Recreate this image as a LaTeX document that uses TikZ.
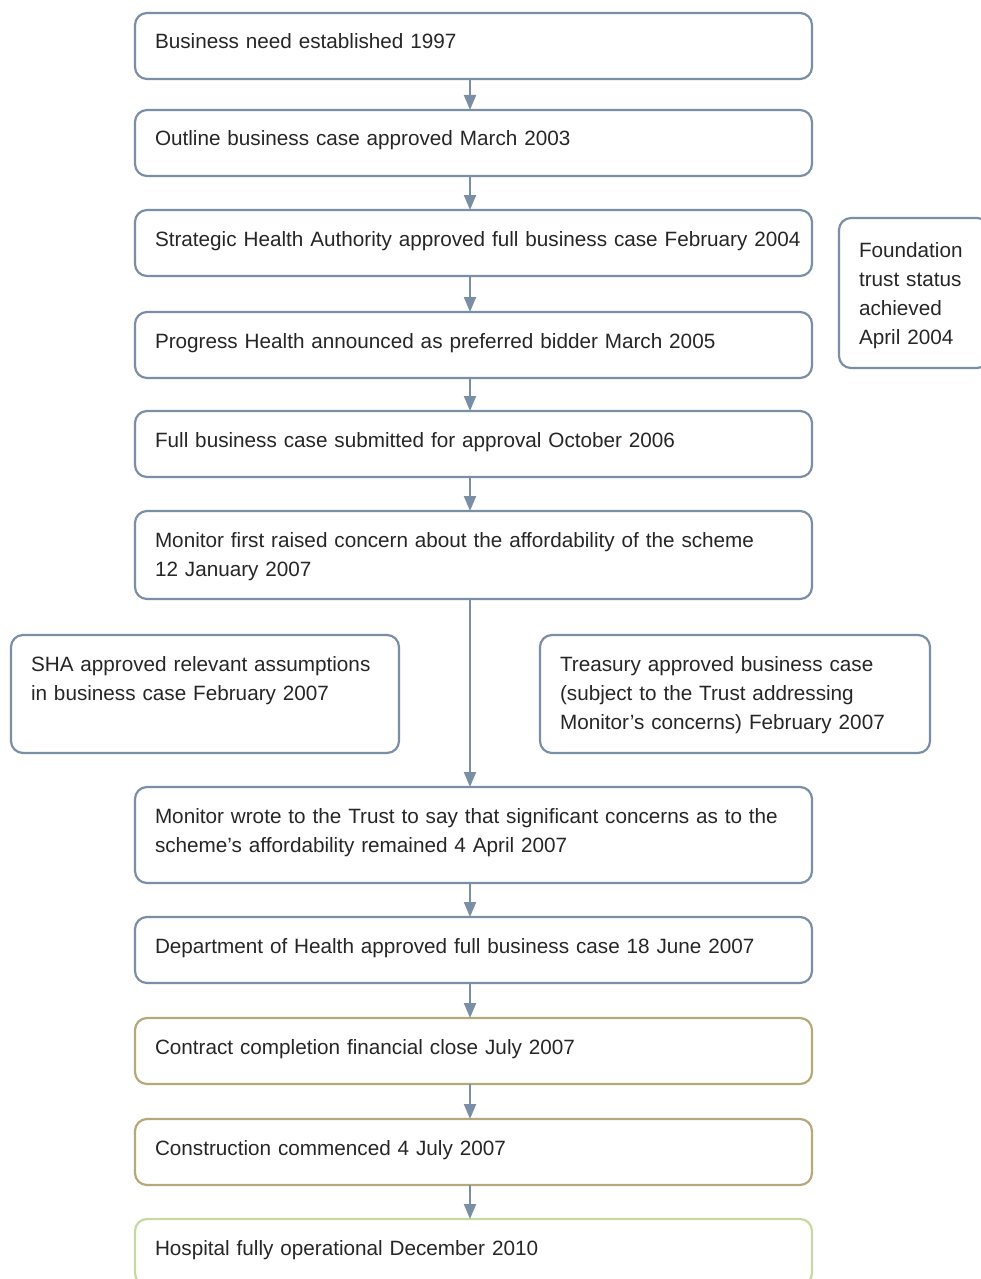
\documentclass[tikz,border=0pt]{standalone}
\usepackage{fontspec}
\setmainfont{Liberation Sans}
\usetikzlibrary{arrows.meta}
\definecolor{slate}{RGB}{122,143,166}
\definecolor{sand}{RGB}{181,168,122}
\definecolor{sage}{RGB}{196,218,162}
\tikzset{
    stage_box/.style={
        draw=slate,
        line width=2.2pt,
        rounded corners=12pt,
        anchor=north west,
        align=left,
        text width=637pt,
        inner xsep=20pt,
        inner ysep=0pt,
        outer sep=0pt,
        text height=36pt,
        text depth=#1,
        font=\fontsize{20.7}{29}\selectfont,
        text=black!85
    },
    stage_box/.default=30pt,
    flow/.style={draw=slate, line width=2pt, -{Triangle[width=12pt,length=15pt]}}
}

\begin{document}
\begin{tikzpicture}[x=1pt, y=-1pt]
    \useasboundingbox (0,0) rectangle (980,1279);
    \coordinate (spine) at (470,0);

    % Stage 1 : Need
    \node[stage_box] (need) at (135,13) {Business need established 1997};
    % Stage 2 : Outline case
    \node[stage_box] (outline) at (135,110) {Outline business case approved March 2003};
    % Stage 3 : SHA approval
    \node[stage_box] (sha) at (135,210) {\mbox{Strategic Health Authority approved full business case February 2004}};
    % Stage 4 : Bidder
    \node[stage_box] (bidder) at (135,312) {Progress Health announced as preferred bidder March 2005};
    % Stage 5 : Full case
    \node[stage_box] (full) at (135,411) {Full business case submitted for approval October 2006};
    % Stage 6 : First concern
    \node[stage_box=52pt] (concern) at (135,511) {Monitor first raised concern about the affordability of the scheme\\12 January 2007};
    % Stage 7 : Letter
    \node[stage_box=60pt] (letter) at (135,787) {Monitor wrote to the Trust to say that significant concerns as to the\\scheme's affordability remained 4 April 2007};
    % Stage 8 : DH approval
    \node[stage_box] (dh) at (135,917) {Department of Health approved full business case 18 June 2007};
    % Stage 9 : Close
    \node[stage_box, draw=sand] (close) at (135,1018) {Contract completion financial close July 2007};
    % Stage 10 : Construction
    \node[stage_box, draw=sand] (build) at (135,1119) {Construction commenced 4 July 2007};
    % Stage 11 : Operational
    \node[stage_box, draw=sage] (open) at (135,1219) {Hospital fully operational December 2010};

    % Side notes
    \node[stage_box=82pt, text width=348pt] (assume) at (11,635) {SHA approved relevant assumptions\\in business case February 2007};
    \node[stage_box=82pt, text width=350pt] (treasury) at (540,635) {Treasury approved business case\\(subject to the Trust addressing\\Monitor's concerns) February 2007};
    \node[stage_box=111pt, text height=39pt, text width=110pt] (foundation) at (839,218) {Foundation\\trust status\\achieved\\April 2004};

    % Connectors
    \draw[flow] (need.south -| spine) -- (outline.north -| spine);
    \draw[flow] (outline.south -| spine) -- (sha.north -| spine);
    \draw[flow] (sha.south -| spine) -- (bidder.north -| spine);
    \draw[flow] (bidder.south -| spine) -- (full.north -| spine);
    \draw[flow] (full.south -| spine) -- (concern.north -| spine);
    \draw[flow] (concern.south -| spine) -- (letter.north -| spine);
    \draw[flow] (letter.south -| spine) -- (dh.north -| spine);
    \draw[flow] (dh.south -| spine) -- (close.north -| spine);
    \draw[flow] (close.south -| spine) -- (build.north -| spine);
    \draw[flow] (build.south -| spine) -- (open.north -| spine);
\end{tikzpicture}
\end{document}
